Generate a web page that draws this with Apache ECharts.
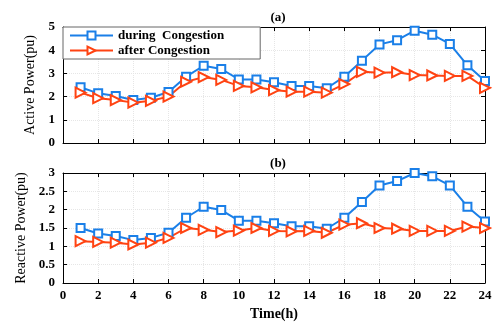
<!DOCTYPE html>
<html><head><meta charset="utf-8">
<script src="https://cdn.jsdelivr.net/npm/echarts@6/dist/echarts.min.js"></script>
<style>html,body{margin:0;padding:0;background:#fff}#c{width:496px;height:322px}</style>
</head><body><div id="c"></div>
<script>
var hours = [1,2,3,4,5,6,7,8,9,10,11,12,13,14,15,16,17,18,19,20,21,22,23,24];
var activeDuring = [2.40,2.14,2.03,1.85,1.95,2.20,2.86,3.33,3.19,2.74,2.74,2.62,2.46,2.46,2.36,2.86,3.55,4.25,4.43,4.84,4.67,4.27,3.35,2.67];
var activeAfter  = [2.17,1.93,1.85,1.74,1.82,2.00,2.64,2.84,2.72,2.46,2.40,2.28,2.21,2.21,2.17,2.54,3.07,3.03,3.05,2.93,2.91,2.89,2.89,2.38];
var reactiveDuring = [1.50,1.35,1.28,1.17,1.23,1.37,1.78,2.08,1.99,1.70,1.70,1.63,1.55,1.55,1.48,1.78,2.21,2.66,2.78,3.00,2.91,2.66,2.08,1.68];
var reactiveAfter  = [1.14,1.12,1.10,1.05,1.10,1.23,1.50,1.45,1.39,1.43,1.50,1.42,1.41,1.42,1.37,1.59,1.63,1.50,1.48,1.42,1.42,1.42,1.54,1.50];
var seriesNames = ['during  Congestion','after Congestion'];
var panelTitles = ['(a)','(b)'];

function pairs(v){ return hours.map(function(h,i){ return [h, v[i]]; }); }
var FONT = '"Liberation Serif","Times New Roman",serif';
var BLUE = '#1a7fe8', RED = '#ff4312';

function xAx(idx, showLabels){
  return {
    type:'value', gridIndex:idx, min:0, max:24, interval:2,
    axisLine:{show:true, onZero:false, lineStyle:{color:'#000', width:1}},
    axisTick:{show:true, inside:true, length:4, lineStyle:{color:'#000'}},
    axisLabel:{show:showLabels, color:'#000', fontFamily:FONT, fontWeight:'bold', fontSize:13, margin:6},
    splitLine:{show:true, lineStyle:{color:'#e6e6e6', type:'dotted'}},
    name: showLabels ? 'Time(h)' : '', nameLocation:'middle', nameGap:24,
    nameTextStyle:{color:'#000', fontFamily:FONT, fontWeight:'bold', fontSize:14}
  };
}
function xTop(idx){
  return { type:'value', gridIndex:idx, position:'top', min:0, max:24, interval:2,
    axisLine:{show:true, onZero:false, lineStyle:{color:'#000'}},
    axisTick:{show:true, inside:true, length:4, lineStyle:{color:'#000'}},
    axisLabel:{show:false}, splitLine:{show:false} };
}
function yAx(idx, max, interval, name){
  return {
    type:'value', gridIndex:idx, min:0, max:max, interval:interval,
    axisLine:{show:true, onZero:false, lineStyle:{color:'#000'}},
    axisTick:{show:true, inside:true, length:4, lineStyle:{color:'#000'}},
    axisLabel:{color:'#000', fontFamily:FONT, fontWeight:'bold', fontSize:13, margin:8},
    splitLine:{show:true, lineStyle:{color:'#e6e6e6', type:'dotted'}},
    name:name, nameLocation:'middle', nameGap:24,
    nameTextStyle:{color:'#000', fontFamily:FONT, fontSize:14}
  };
}
function yRight(idx, max, interval){
  return { type:'value', gridIndex:idx, position:'right', min:0, max:max, interval:interval,
    axisLine:{show:true, onZero:false, lineStyle:{color:'#000'}},
    axisTick:{show:true, inside:true, length:4, lineStyle:{color:'#000'}},
    axisLabel:{show:false}, splitLine:{show:false} };
}
function ser(name, data, xi, yi, color, isRed){
  return {
    name:name, type:'line', xAxisIndex:xi, yAxisIndex:yi, data:pairs(data),
    symbol: isRed ? 'emptyTriangle' : 'emptyRect',
    symbolSize: isRed ? 10 : 8,
    symbolRotate: isRed ? -90 : 0,
    lineStyle:{color:color, width:2},
    itemStyle:{color:color, borderWidth:1.6},
    animation:false
  };
}

var chart = echarts.init(document.getElementById('c'), null, {renderer:'canvas'});
chart.setOption({
  backgroundColor:'#fff',
  animation:false,
  title:[
    {text:panelTitles[0], left:273, top:6, textAlign:'center', textStyle:{fontFamily:FONT, fontWeight:'bold', fontSize:13, color:'#000'}},
    {text:panelTitles[1], left:273, top:152, textAlign:'center', textStyle:{fontFamily:FONT, fontWeight:'bold', fontSize:13, color:'#000'}}
  ],
  legend:{
    data:seriesNames, orient:'vertical', left:63, top:27, z:10,
    padding:[2,36,2,6], itemGap:2, itemWidth:43, itemHeight:10,
    borderColor:'#666', borderWidth:1, backgroundColor:'#fff',
    textStyle:{fontFamily:FONT, fontWeight:'bold', fontSize:13, color:'#000'}
  },
  grid:[
    {left:63, right:11, top:27, height:116},
    {left:63, right:11, top:173, height:112}
  ],
  xAxis:[xAx(0,false), xAx(1,true), xTop(0), xTop(1)],
  yAxis:[yAx(0,5,1,'Active Power(pu)'), yAx(1,3,0.5,'Reactive Power(pu)'), yRight(0,5,1), yRight(1,3,0.5)],
  series:[
    ser(seriesNames[0], activeDuring, 0, 0, BLUE, false),
    ser(seriesNames[1], activeAfter, 0, 0, RED, true),
    ser(seriesNames[0], reactiveDuring, 1, 1, BLUE, false),
    ser(seriesNames[1], reactiveAfter, 1, 1, RED, true)
  ]
});
</script></body></html>
